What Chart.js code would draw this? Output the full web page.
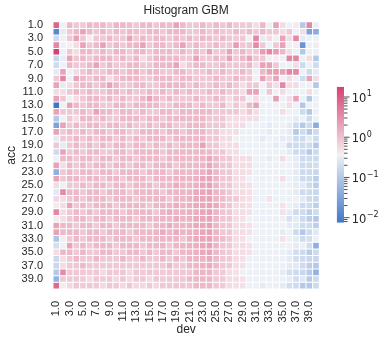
<!DOCTYPE html>
<html>
<head>
<meta charset="utf-8">
<script src="https://cdn.jsdelivr.net/npm/chart.js@4.4.0/dist/chart.umd.min.js"></script>
<style>
html,body{margin:0;padding:0;background:#fff;overflow:hidden}
#wrap{position:relative;width:383px;height:341px}
#main{position:absolute;left:0;top:0}
#cbar{position:absolute;left:320px;top:80px}
</style>
</head>
<body>
<div id="wrap">
<canvas id="main" width="383" height="341"></canvas>
<canvas id="cbar" width="63" height="152"></canvas>
</div>
<script>
// ---- categories ----
const devLabels = ['1.0','2.0','3.0','4.0','5.0','6.0','7.0','8.0','9.0','10.0','11.0','12.0','13.0','14.0','15.0','16.0','17.0','18.0','19.0','20.0','21.0','22.0','23.0','24.0','25.0','26.0','27.0','28.0','29.0','30.0','31.0','32.0','33.0','34.0','35.0','36.0','37.0','38.0','39.0','40.0'];
const accLabels = ['1.0','2.0','3.0','4.0','5.0','6.0','7.0','8.0','9.0','10.0','11.0','12.0','13.0','14.0','15.0','16.0','17.0','18.0','19.0','20.0','21.0','22.0','23.0','24.0','25.0','26.0','27.0','28.0','29.0','30.0','31.0','32.0','33.0','34.0','35.0','36.0','37.0','38.0','39.0','40.0'];
const titleText = 'Histogram GBM';
const xTitle = 'dev';
const yTitle = 'acc';

// ---- cell values: one row per acc value, one entry per dev value ----
const counts = [
 [8,0.36,1.2,0.85,0.8,1.2,1.1,1.2,0.85,1.3,1.2,1.1,0.85,1.2,1.2,0.9,1.2,1.1,2,1.2, 0.85,0.9,1.2,0.85,1.2,0.85,1.2,0.85,0.8,0.85,0.55,1.2,0.36,2,0.55,0.36,0.4,0.1,3.7,0.33],
 [0.013,0.3,0.85,1.2,2,1.2,0.85,1.3,0.85,1.2,0.9,1.2,1.1,0.85,1.2,1.2,0.85,1.2,1.3,1.2, 0.85,0.9,1.2,0.85,1.2,0.85,0.8,1.2,0.85,1.2,0.85,1.2,0.85,0.9,0.55,0.85,0.36,0.55,0.03,0.04],
 [0.18,0.36,0.85,2,0.85,0.38,0.85,0.9,1.2,0.85,0.85,2,0.85,1.2,0.9,1.2,1.1,0.85,1.2,0.85, 1.2,0.85,1.2,1.1,0.85,1.2,0.85,0.8,0.85,0.36,3.7,0.3,0.55,0.36,2,0.55,3.5,0.3,0.36,0.36],
 [3.7,0.36,0.37,0.55,2,0.85,1.2,2,0.85,1.2,0.85,1.2,1.3,2,0.85,1.2,1.2,0.85,1.2,2, 0.85,1.2,0.85,0.9,1.2,0.85,0.85,2.2,0.85,0.9,3.5,0.85,0.36,0.85,2,0.36,0.38,0.019,0.36,0.4],
 [18,0.36,0.85,0.55,1.2,1.2,0.85,1.2,0.85,1.3,1.2,0.85,1.2,1.2,0.85,1.2,1.1,1.2,0.85,1.2, 0.85,1.2,0.85,2,0.85,0.9,2,0.85,1.2,0.85,0.85,2.2,3.7,2.2,1.2,0.55,0.36,0.1,0.36,0.36],
 [0.16,0.32,2,0.85,1.2,0.85,1.2,1.3,1.2,0.85,1.2,0.85,1.2,0.55,0.85,1.2,1.2,1.1,1.2,0.85, 0.85,2,0.85,0.9,1.2,0.85,2,0.85,1.2,2,0.85,0.85,0.36,0.38,0.36,3.7,3.7,0.36,0.55,0.1],
 [0.18,0.36,1.2,0.85,0.85,1.2,2,0.85,1.2,0.85,0.9,1.2,1.2,0.85,0.85,1.2,1.2,1.3,2,0.55, 0.85,1.2,1.2,0.85,0.85,1.2,0.85,0.9,0.85,1.2,0.55,2,2,0.85,0.36,0.36,0.55,0.18,0.36,0.18],
 [0.3,2,0.36,0.55,0.85,1.2,0.85,0.9,1.2,1.2,0.85,1.2,1.3,0.85,1.2,1.2,0.85,0.85,1.2,1.2, 0.85,0.9,0.85,1.2,0.85,1.2,0.85,0.85,1.2,0.85,0.36,1.2,2,2.2,2,3.7,3.7,0.36,0.18,0.3],
 [0.85,3.7,0.36,2,1.2,0.85,1.2,1.2,0.55,0.85,1.2,1.3,1.2,0.85,0.85,1.2,1.2,1.2,0.85,1.2, 1.2,0.85,0.85,0.9,1.2,0.85,0.85,1.2,0.85,0.85,0.36,2,0.85,2,0.36,0.55,0.36,0.18,2,0.55],
 [2,0.3,0.55,0.85,1.2,1.2,0.85,1.2,2,1.2,0.85,0.9,1.2,1.2,0.85,0.85,1.2,1.3,1.2,1.2, 0.85,1.2,0.85,0.85,1.2,0.85,1.2,0.85,0.55,0.85,0.85,0.36,0.85,0.55,3.7,0.55,0.55,0.36,0.36,0.1],
 [0.55,0.55,0.85,1.2,0.85,1.2,0.85,0.85,1.2,1.2,0.85,1.2,0.85,0.9,1.2,0.85,1.2,0.85,1.2,0.85, 1.2,0.85,0.85,1.2,0.85,1.2,0.85,0.85,0.55,2,2,0.36,0.85,0.36,0.55,0.36,0.36,0.36,0.55,0.36],
 [2,0.85,0.36,0.55,0.85,1.2,1.2,0.85,1.2,0.85,1.2,0.85,0.85,1.2,2,1.2,0.85,1.2,0.85,0.85, 0.85,1.2,0.85,0.85,1.2,0.85,0.55,0.85,0.85,0.36,0.55,0.36,0.36,2.2,0.36,0.55,2,0.36,0.1,0.36],
 [0.0075,0.36,2,1.2,0.85,1.2,1.2,0.85,0.85,1.2,1.2,0.85,1.2,1.2,1.2,1.2,0.85,0.85,1.2,1.2, 1.2,0.85,1.2,0.85,0.85,1.2,0.55,0.85,0.55,1.2,2,0.36,0.36,0.36,0.36,0.55,0.36,0.1,0.36,0.36],
 [2,0.85,0.85,0.85,1.2,0.85,2,1.2,1.2,0.85,1.2,1.2,0.85,1.2,0.85,0.85,1.2,1.2,0.85,1.2, 1.2,1.2,1.2,1.2,0.85,0.85,0.85,0.85,0.55,0.85,0.55,0.36,0.36,0.36,0.55,0.36,0.36,0.18,0.1,0.36],
 [0.1,0.36,0.85,0.55,1.2,1.2,0.85,1.2,0.85,0.85,1.2,1.2,1.2,0.85,1.2,1.2,0.85,1.2,1.2,1.2, 1.2,1.2,1.2,0.85,0.85,0.85,0.55,0.55,0.55,0.55,0.55,0.36,0.36,0.36,0.36,0.36,0.3,0.36,0.18,0.36],
 [0.03,2,0.85,1.2,0.85,1.2,1.2,0.85,1.2,1.2,0.85,1.2,0.85,0.85,1.2,0.85,1.2,1.2,0.85,0.85, 1.2,1.2,1.2,0.85,0.85,0.85,0.55,0.55,0.55,0.36,0.36,0.36,0.3,0.36,0.36,0.3,0.18,0.1,0.18,0.04],
 [2,0.85,1.2,0.85,1.2,0.85,1.2,1.2,0.85,1.2,1.2,0.85,0.85,1.2,1.2,1.2,0.85,1.2,1.2,0.85, 1.2,1.2,1.2,0.85,0.85,0.55,0.55,0.55,0.36,0.36,0.36,0.36,0.3,0.36,0.36,0.3,0.1,0.18,0.1,0.18],
 [0.3,0.85,0.85,1.2,0.85,1.2,0.85,1.2,1.2,0.85,1.2,0.85,1.2,0.85,1.2,1.2,1.2,0.85,1.2,1.2, 1.2,1.2,1.2,0.85,0.85,0.55,0.55,0.36,0.36,0.36,0.36,0.3,0.36,0.36,0.3,0.3,0.18,0.18,0.3,0.18],
 [0.85,0.3,0.85,1.2,0.85,1.2,0.85,1.2,0.85,1.2,1.2,0.85,1.2,1.2,0.85,1.2,0.85,1.2,0.85,1.2, 1.2,1.2,2,0.85,0.85,0.55,0.55,0.55,0.36,0.36,0.36,0.36,0.36,0.3,0.36,0.18,0.18,0.18,0.18,0.1],
 [0.18,2,0.85,1.2,0.85,1.2,1.2,0.85,0.85,1.2,1.2,0.85,1.2,1.2,1.2,1.2,0.85,1.2,1.2,1.2, 1.2,1.2,1.2,1.2,0.85,0.85,0.55,0.55,0.36,0.36,0.36,0.36,0.36,0.36,0.36,0.3,0.18,0.18,0.1,0.18],
 [0.36,1.2,1.2,0.85,1.2,1.2,0.85,1.2,1.2,0.85,1.2,1.2,0.85,1.2,1.2,1.2,0.85,1.2,1.2,1.2, 1.2,1.2,1.3,1.8,1.2,0.85,0.85,0.55,0.55,0.55,0.36,0.36,0.3,0.36,0.55,0.36,0.3,0.18,0.18,0.18],
 [2,0.55,1.2,0.85,1.2,0.85,1.2,1.2,0.85,1.2,1.2,0.85,1.2,1.2,0.85,1.2,1.2,1.2,0.85,1.2, 1.2,1.2,1.3,1.8,1.2,0.85,0.85,0.55,0.55,0.55,0.36,0.36,0.36,0.36,0.36,0.36,0.3,0.18,0.18,0.2],
 [0.045,0.85,1.2,0.85,1.2,1.2,0.85,1.2,1.2,0.85,1.2,1.2,1.2,0.85,1.2,1.2,1.2,0.85,1.2,1.2, 1.2,1.3,1.4,1.9,1.2,0.85,0.85,0.55,0.55,0.5,0.36,0.36,0.36,0.36,0.36,0.36,0.3,0.18,0.18,0.16],
 [2,0.85,1.2,1.2,0.85,1.2,1.2,0.85,1.2,1.2,0.85,1.2,1.2,1.2,0.85,1.2,1.2,1.2,1.3,1.3, 1.3,1.4,1.8,2,1.3,0.85,0.85,0.55,0.5,0.36,0.36,0.36,0.36,0.36,0.55,0.36,0.3,0.18,0.18,0.12],
 [0.55,0.36,0.85,0.85,1.2,0.85,1.2,1.2,0.85,1.2,1.2,0.85,1.2,1.2,1.2,0.85,1.2,1.2,1.6,1.3, 1.3,1.4,1.8,2,1.3,0.85,0.85,0.55,0.55,0.5,0.36,0.36,0.36,0.36,0.36,0.36,0.3,0.28,0.18,0.12],
 [0.28,3.5,1.2,1.2,0.85,1.2,1.2,0.85,1.2,1.2,1.2,0.85,1.2,1.2,1.2,1.2,0.85,1.3,1.3,1.3, 1.3,1.7,1.8,2,1.3,1.1,0.85,0.55,0.55,0.5,0.36,0.36,0.36,0.36,0.36,0.36,0.3,0.18,0.18,0.16],
 [0.6,0.55,0.85,1.2,0.85,1.2,1.2,1.2,0.85,1.2,1.2,1.2,0.85,1.2,1.2,1.2,1.3,0.9,1.3,1.3, 1.4,1.7,1.8,2,1.3,1.1,0.85,0.8,0.55,0.5,0.36,0.36,0.5,0.36,0.36,0.36,0.36,0.28,0.18,0.16],
 [0.4,0.55,2,0.85,1.2,0.85,1.2,1.2,1.2,0.85,1.2,1.2,1.2,1.2,0.85,1.2,1.3,1.3,1.6,1.3, 1.4,1.7,1.8,2,1.6,1.1,0.85,0.55,0.55,0.5,0.36,0.36,0.36,0.36,0.5,0.36,0.3,0.18,0.18,0.12],
 [3.7,0.55,0.85,1.2,0.85,1.2,0.85,1.2,1.2,1.2,0.85,1.2,1.2,1.2,1.2,0.85,1.3,1.6,1.3,1.3, 1.4,1.5,1.8,2,1.3,0.9,0.85,0.55,0.55,0.5,0.36,0.36,0.36,0.36,0.5,0.3,0.18,0.18,0.12,0.18],
 [0.38,0.55,0.85,1.2,1.2,0.85,1.2,1.2,0.85,1.2,1.2,1.2,0.85,1.2,1.2,1.2,1.3,1.3,1.6,1.3, 1.4,1.7,1.8,2,1.3,0.9,0.85,0.55,0.5,0.36,0.36,0.36,0.36,0.36,0.36,0.22,0.3,0.18,0.12,0.1],
 [2,1.2,1.2,0.85,1.2,1.2,0.85,1.2,1.2,0.85,1.2,1.2,1.2,1.2,0.85,1.2,1.3,1.6,1.3,1.3, 1.4,1.7,1.8,2,1.3,0.9,0.85,0.55,0.55,0.5,0.36,0.36,0.36,0.36,0.36,0.3,0.28,0.18,0.18,0.12],
 [2,1.2,1.2,1.2,0.85,1.2,1.2,0.85,1.2,1.2,1.2,0.85,1.2,1.2,1.2,1.3,1.6,1.3,1.6,1.3, 1.4,1.5,1.8,2,1.3,0.9,0.85,0.55,0.55,0.5,0.36,0.36,0.36,0.36,0.3,0.36,0.18,0.1,0.18,0.28],
 [0.09,0.38,0.85,1.2,0.85,1.2,1.2,1.2,0.85,1.2,1.2,1.2,0.85,1.2,1.2,1.2,1.3,1.3,1.3,0.9, 1.4,1.7,1.8,2,1.3,1.1,0.85,0.55,0.5,0.36,0.36,0.36,0.36,0.36,0.5,0.36,0.3,0.18,0.2,0.36],
 [0.2,0.36,2,0.85,1.2,0.85,1.2,1.2,1.2,0.85,1.2,1.2,1.2,0.85,1.2,1.2,1.3,0.9,1.3,1.3, 1.4,1.5,1.8,2,1.3,0.9,0.85,0.55,0.55,0.5,0.36,0.36,0.36,0.36,0.36,0.36,0.3,0.36,0.2,0.045],
 [0.55,1.2,1.2,0.85,1.2,0.85,0.85,1.2,1.2,0.85,0.85,1.2,1.2,0.85,1.2,0.85,1.2,1.2,0.85,1.2, 1.3,1.4,1.7,1.9,1.2,0.85,0.8,0.55,0.55,0.5,0.36,0.36,0.36,0.36,0.36,0.3,0.2,0.18,0.11,0.18],
 [0.17,0.55,0.85,1.2,0.85,0.85,1.2,0.85,0.85,0.85,1.2,0.85,0.85,1.2,0.85,0.85,1.2,0.85,1.2,0.85, 1.3,1.3,1.4,1.7,1.2,0.85,0.8,0.55,0.5,0.36,0.36,0.36,0.36,0.36,0.36,0.3,0.2,0.18,0.16,0.16],
 [0.16,0.55,0.85,0.85,1.2,0.85,0.85,0.85,0.85,0.85,0.85,0.85,0.85,0.85,0.85,0.85,0.85,1.2,0.85,0.85, 1.2,1.3,1.4,1.6,1.2,0.85,0.8,0.55,0.5,0.36,0.36,0.36,0.36,0.36,0.36,0.3,0.28,0.18,0.12,0.1],
 [0.1,3.3,0.85,0.85,0.85,0.8,0.85,0.6,0.85,0.8,0.85,0.6,0.85,0.8,0.85,0.85,0.8,0.85,0.85,0.9, 0.9,1.2,1.3,1.3,0.85,0.8,0.55,0.5,0.36,0.36,0.36,0.36,0.36,0.36,0.3,0.2,0.18,0.16,0.11,0.05],
 [0.05,0.85,0.85,0.85,0.8,0.6,0.85,0.8,0.85,0.6,0.85,0.6,0.8,0.85,0.6,0.85,0.8,0.85,0.85,0.9, 1.1,1.2,1.3,1.3,0.85,0.8,0.55,0.55,0.5,0.36,0.36,0.36,0.36,0.36,0.36,0.3,0.2,0.26,0.11,0.18],
 [7,0.38,0.6,0.85,0.8,0.85,0.8,0.6,0.85,0.8,0.6,0.85,0.6,0.6,0.8,0.6,0.85,0.85,0.9,0.9, 0.9,1.2,1.2,1.2,0.85,0.8,0.55,0.5,0.5,0.36,0.36,0.3,0.36,0.36,0.3,0.2,0.18,0.1,0.1,0.18]
];

// ---- colour map (diverging blue -> light grey -> pink, log normalised) ----
const FONT = '"Liberation Sans", Arial, sans-serif';
const TEXT = '#262626';
const allVals = counts.flat();
const vmin = Math.min(...allVals);
const vmax = Math.max(...allVals);
const lmin = Math.log10(vmin), lmax = Math.log10(vmax);
const stops = [
  [0, [66,119,200]],
  [0.498, [236,241,247]],
  [0.5, [242,242,242]],
  [0.502, [246,237,240]],
  [1, [214,65,112]]
];
function cmap(t){
  t = Math.max(0, Math.min(1, t));
  for (let k = 1; k < stops.length; k++){
    if (t <= stops[k][0]){
      const [t0,c0] = stops[k-1], [t1,c1] = stops[k];
      const f = (t - t0) / (t1 - t0);
      const c = c0.map((v,i) => Math.round(v + (c1[i]-v)*f));
      return `rgb(${c[0]},${c[1]},${c[2]})`;
    }
  }
  const c = stops[stops.length-1][1];
  return `rgb(${c[0]},${c[1]},${c[2]})`;
}
function colorFor(v){ return cmap((Math.log10(v) - lmin) / (lmax - lmin)); }

// ---- heatmap ----
const datasets = counts.map((row, i) => {
  const acc = parseFloat(accLabels[i]);
  return {
    label: accLabels[i],
    data: row.map(() => [acc - 0.5, acc + 0.5]),
    backgroundColor: row.map(colorFor),
    borderColor: '#ffffff',
    borderWidth: 0.5,
    borderSkipped: false,
    inflateAmount: 0,
    categoryPercentage: 1,
    barPercentage: 1,
    grouped: false
  };
});

new Chart(document.getElementById('main'), {
  type: 'bar',
  data: { labels: devLabels, datasets },
  options: {
    responsive: false,
    animation: false,
    devicePixelRatio: 1,
    layout: { padding: { left: 0, right: 63.7, top: 0, bottom: 0 } },
    plugins: {
      legend: { display: false },
      tooltip: { enabled: false },
      title: {
        display: true, text: titleText, color: TEXT, fullSize: false,
        font: { family: FONT, size: 12, weight: 'normal' },
        padding: { top: 3.5, bottom: 3.8 }
      }
    },
    scales: {
      x: {
        type: 'category',
        grid: { display: false, drawTicks: false },
        border: { display: false },
        ticks: {
          autoSkip: false, maxRotation: 90, minRotation: 90, padding: 12,
          color: TEXT, font: { family: FONT, size: 11 },
          callback: (v, i) => (i % 2 === 0 ? devLabels[i] : '')
        },
        title: { display: true, text: xTitle, color: TEXT, font: { family: FONT, size: 12 }, padding: { top: 0, bottom: 4 } },
        afterFit: s => { s.height = 52; }
      },
      y: {
        type: 'linear', reverse: true, min: 0.5, max: 40.5,
        grid: { display: false, drawTicks: false },
        border: { display: false },
        afterBuildTicks: s => { s.ticks = accLabels.filter((_, i) => i % 2 === 0).map(l => ({ value: parseFloat(l) })); },
        ticks: {
          autoSkip: false, padding: 10, color: TEXT, font: { family: FONT, size: 11 },
          callback: v => Number(v).toFixed(1)
        },
        title: { display: true, text: yTitle, color: TEXT, font: { family: FONT, size: 12 }, padding: { top: 4, bottom: 0 } },
        afterFit: s => { s.width = 53; }
      }
    }
  }
});

// ---- colour bar ----
const cbarTicks = {
  id: 'cbarTicks',
  afterDraw(chart){
    const s = chart.scales.y, ctx = chart.ctx, x0 = chart.chartArea.right;
    ctx.save();
    ctx.strokeStyle = TEXT; ctx.fillStyle = TEXT; ctx.lineWidth = 0.8;
    for (let e = -3; e <= 2; e++){
      for (let m = 1; m <= 9; m++){
        const v = m * Math.pow(10, e);
        if (v < vmin || v > vmax) continue;
        const y = s.getPixelForValue(v);
        const len = m === 1 ? 5.5 : 3.5;
        ctx.beginPath(); ctx.moveTo(x0, y); ctx.lineTo(x0 + len, y); ctx.stroke();
        if (m === 1){
          ctx.textAlign = 'left'; ctx.textBaseline = 'alphabetic';
          ctx.font = '11.5px "DejaVu Sans"';
          ctx.fillText('10', x0 + 7.8, y + 5);
          const w = ctx.measureText('10').width;
          ctx.font = '8px "DejaVu Sans"';
          ctx.fillText(e < 0 ? '\u2212' + (-e) : String(e), x0 + 7.8 + w + 0.3, y - 0.5);
        }
      }
    }
    ctx.restore();
  }
};

new Chart(document.getElementById('cbar'), {
  type: 'bar',
  data: {
    labels: ['colorbar'],
    datasets: [{
      data: [[vmin, vmax]],
      backgroundColor: c => {
        const { chartArea, ctx } = c.chart;
        if (!chartArea) return '#f2f2f2';
        const g = ctx.createLinearGradient(0, chartArea.bottom, 0, chartArea.top);
        const ts = [];
        for (let k = 0; k <= 40; k++) ts.push(k / 40);
        ts.push(0.498, 0.502);
        ts.sort((a, b) => a - b).forEach(t => g.addColorStop(t, cmap(t)));
        return g;
      },
      borderWidth: 0,
      inflateAmount: 0,
      categoryPercentage: 1,
      barPercentage: 1
    }]
  },
  options: {
    responsive: false,
    animation: false,
    devicePixelRatio: 1,
    layout: { padding: { left: 16.7, top: 6.7, bottom: 9.3, right: 0 } },
    plugins: { legend: { display: false }, tooltip: { enabled: false } },
    scales: {
      x: { display: false },
      y: {
        type: 'logarithmic', position: 'right', min: vmin, max: vmax,
        grid: { display: false, drawTicks: false },
        border: { display: false },
        ticks: { display: false },
        afterFit: s => { s.width = 39; }
      }
    }
  },
  plugins: [cbarTicks]
});
</script>
</body>
</html>
